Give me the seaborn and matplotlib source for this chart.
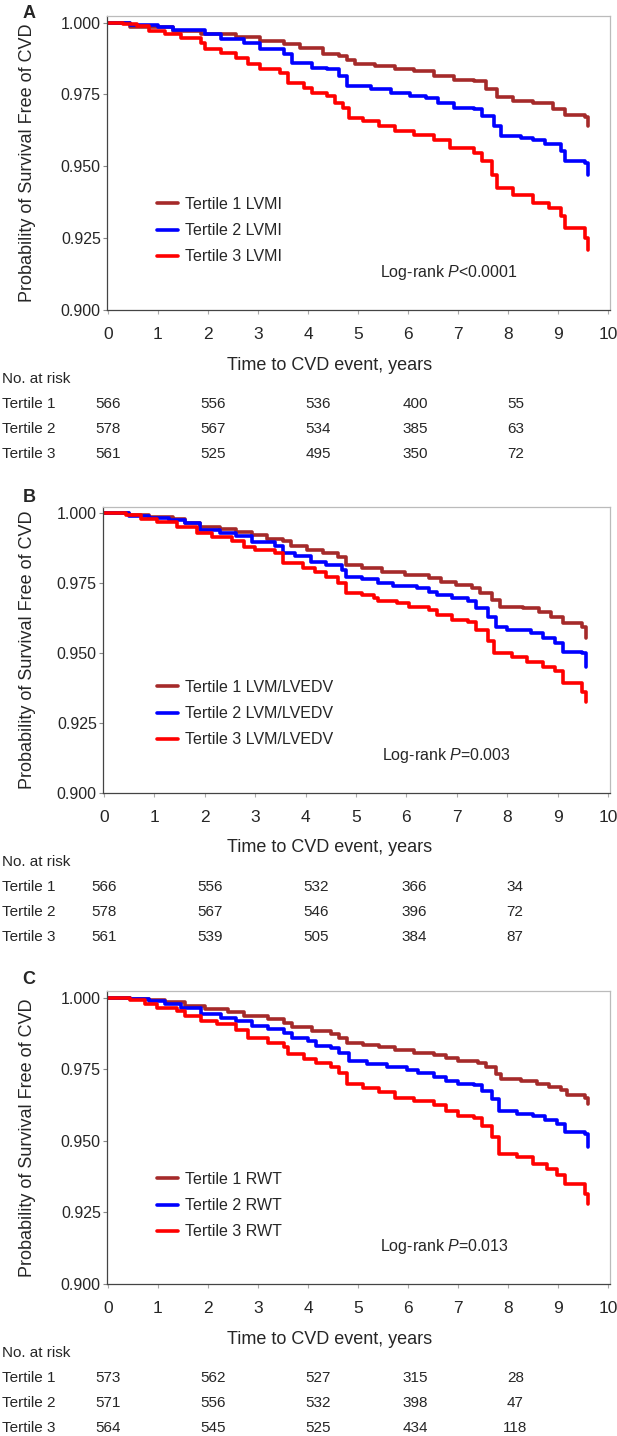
import numpy as np
import pandas as pd
import matplotlib
matplotlib.use('Agg')
import matplotlib.pyplot as plt
import matplotlib.transforms as mtransforms
from matplotlib.lines import Line2D
import seaborn as sns

# ---- curve data: times (years) where the curve steps down, and survival after the step ----
lvmi_t1_time = [0, 0.43, 1.30, 1.85, 2.56, 3.04, 3.51, 3.83, 4.30, 4.62, 4.78, 4.94, 5.33, 5.73, 6.12,
                6.52, 6.91, 7.31, 7.55, 7.78, 8.10, 8.50, 8.89, 9.13, 9.53, 9.60]
lvmi_t1_surv = [1.0, 0.9985, 0.997, 0.996, 0.995, 0.9936, 0.9925, 0.991, 0.989, 0.9884, 0.987, 0.9855, 0.985,
                0.984, 0.983, 0.9815, 0.980, 0.9797, 0.977, 0.974, 0.9727, 0.972, 0.970, 0.968, 0.967, 0.964]
lvmi_t2_time = [0, 0.43, 1.00, 1.30, 1.93, 2.25, 2.72, 3.04, 3.51, 3.67, 4.07, 4.38, 4.62, 4.78, 5.25, 5.65,
                6.04, 6.36, 6.60, 6.91, 7.31, 7.47, 7.71, 7.86, 8.26, 8.50, 8.73, 9.05, 9.13, 9.53, 9.60]
lvmi_t2_surv = [1.0, 0.9992, 0.9983, 0.9973, 0.996, 0.9942, 0.993, 0.9907, 0.989, 0.986, 0.9843, 0.9837,
                0.9814, 0.978, 0.977, 0.9756, 0.9744, 0.9738, 0.972, 0.9703, 0.9698, 0.9674, 0.964, 0.9605,
                0.960, 0.9593, 0.9576, 0.9552, 0.9517, 0.9510, 0.947]
lvmi_t3_time = [0, 0.30, 0.58, 0.82, 1.14, 1.46, 1.85, 1.93, 2.25, 2.56, 2.80, 3.04, 3.43, 3.59, 3.91, 4.07,
                4.38, 4.54, 4.70, 4.82, 5.09, 5.41, 5.73, 6.12, 6.52, 6.84, 7.31, 7.47, 7.67, 7.78, 8.10,
                8.50, 8.81, 9.05, 9.13, 9.53, 9.60]
lvmi_t3_surv = [1.0, 0.9994, 0.9988, 0.997, 0.996, 0.9948, 0.993, 0.9907, 0.9895, 0.9878, 0.9855, 0.9837,
                0.9826, 0.979, 0.9773, 0.9756, 0.9744, 0.972, 0.9703, 0.9669, 0.9657, 0.964, 0.9622, 0.961,
                0.9593, 0.9564, 0.9547, 0.9517, 0.947, 0.9424, 0.940, 0.9372, 0.9355, 0.9326, 0.9285,
                0.925, 0.921]

ratio_t1_time = [0, 0.50, 0.90, 1.37, 1.60, 1.91, 2.30, 2.62, 2.93, 3.24, 3.55, 3.71, 4.02, 4.34, 4.65, 4.80,
                 5.12, 5.51, 5.98, 6.45, 6.68, 6.99, 7.30, 7.46, 7.70, 7.85, 8.32, 8.63, 8.87, 9.10, 9.49, 9.57]
ratio_t1_surv = [1.0, 0.9994, 0.9988, 0.9979, 0.9967, 0.9952, 0.9943, 0.9935, 0.9923, 0.991, 0.9902, 0.9883,
                 0.9869, 0.9857, 0.9845, 0.9815, 0.9804, 0.9792, 0.978, 0.9768, 0.9756, 0.9744, 0.9732,
                 0.9714, 0.969, 0.9667, 0.9661, 0.9649, 0.9631, 0.9607, 0.9595, 0.9554]
ratio_t2_time = [0, 0.50, 0.90, 1.29, 1.60, 1.91, 2.30, 2.62, 2.93, 3.40, 3.55, 3.79, 4.10, 4.41, 4.73, 4.80,
                 5.12, 5.43, 5.74, 6.21, 6.45, 6.60, 6.91, 7.23, 7.38, 7.62, 7.77, 8.00, 8.48, 8.71, 8.95,
                 9.10, 9.49, 9.57]
ratio_t2_surv = [1.0, 0.9992, 0.9982, 0.9976, 0.9964, 0.994, 0.9931, 0.9919, 0.9899, 0.9883, 0.9857, 0.9848,
                 0.9827, 0.9815, 0.9798, 0.9774, 0.9764, 0.975, 0.974, 0.9732, 0.972, 0.9708, 0.9696,
                 0.9685, 0.9661, 0.9631, 0.9595, 0.9583, 0.9571, 0.9554, 0.9536, 0.9506, 0.950, 0.9452]
ratio_t3_time = [0, 0.43, 0.74, 1.05, 1.45, 1.84, 2.15, 2.54, 2.77, 3.00, 3.40, 3.55, 3.95, 4.18, 4.41, 4.65,
                 4.80, 5.12, 5.35, 5.43, 5.82, 6.05, 6.45, 6.60, 6.91, 7.23, 7.38, 7.62, 7.73, 8.09, 8.40,
                 8.71, 8.95, 9.10, 9.49, 9.57]
ratio_t3_surv = [1.0, 0.9994, 0.9979, 0.997, 0.9952, 0.9929, 0.9917, 0.9902, 0.9881, 0.9869, 0.9857, 0.9821,
                 0.9804, 0.9792, 0.9774, 0.975, 0.9717, 0.9708, 0.9696, 0.9685, 0.9679, 0.9667, 0.9655,
                 0.9637, 0.9619, 0.9613, 0.9583, 0.9542, 0.950, 0.9488, 0.947, 0.9452, 0.9435, 0.9393,
                 0.9363, 0.9327]

rwt_t1_time = [0, 0.43, 0.82, 1.14, 1.53, 1.93, 2.40, 2.72, 3.20, 3.51, 3.67, 4.07, 4.46, 4.62, 4.78, 5.09,
               5.41, 5.73, 6.12, 6.52, 6.76, 6.99, 7.39, 7.55, 7.75, 7.86, 8.26, 8.58, 8.81, 9.05, 9.17,
               9.53, 9.60]
rwt_t1_surv = [1.0, 0.9996, 0.9991, 0.9983, 0.9971, 0.9959, 0.9948, 0.9936, 0.9924, 0.9913, 0.9898, 0.9884,
               0.9872, 0.986, 0.9843, 0.9835, 0.9826, 0.9816, 0.9808, 0.980, 0.9788, 0.9779, 0.9773,
               0.9756, 0.9733, 0.9715, 0.9709, 0.9698, 0.9688, 0.9677, 0.966, 0.9651, 0.9628]
rwt_t2_time = [0, 0.43, 0.82, 1.14, 1.46, 1.85, 2.25, 2.56, 2.88, 3.20, 3.51, 3.67, 3.99, 4.15, 4.46, 4.62,
               4.82, 5.17, 5.57, 5.97, 6.20, 6.52, 6.76, 6.99, 7.31, 7.47, 7.67, 7.82, 8.18, 8.50, 8.73,
               8.97, 9.13, 9.53, 9.60]
rwt_t2_surv = [1.0, 0.9995, 0.9988, 0.9979, 0.9965, 0.9942, 0.993, 0.9919, 0.9901, 0.989, 0.9878, 0.9858,
               0.9847, 0.9831, 0.9823, 0.9808, 0.9779, 0.9767, 0.9756, 0.9747, 0.9738, 0.9723, 0.9709,
               0.9698, 0.9695, 0.9674, 0.9645, 0.9605, 0.9595, 0.9587, 0.9572, 0.9558, 0.9529, 0.9523,
               0.9477]
rwt_t3_time = [0, 0.43, 0.74, 0.98, 1.38, 1.53, 1.85, 2.17, 2.56, 2.80, 3.20, 3.51, 3.59, 3.91, 4.15, 4.46,
               4.62, 4.78, 5.09, 5.41, 5.73, 6.12, 6.52, 6.76, 6.99, 7.31, 7.47, 7.67, 7.82, 8.18, 8.50,
               8.77, 8.97, 9.13, 9.53, 9.60]
rwt_t3_surv = [1.0, 0.9991, 0.9977, 0.9965, 0.9953, 0.9936, 0.9919, 0.9907, 0.9886, 0.986, 0.9843, 0.9826,
               0.9802, 0.9785, 0.977, 0.9758, 0.9738, 0.9698, 0.9686, 0.9669, 0.9651, 0.964, 0.9626,
               0.9605, 0.9587, 0.9581, 0.9552, 0.9512, 0.9453, 0.9442, 0.9419, 0.9401, 0.9381, 0.9349,
               0.9314, 0.9279]

# ---- numbers at risk ----
risk_times = [0, 2, 4, 6, 8]
lvmi_at_risk = [[566, 556, 536, 400, 55], [578, 567, 534, 385, 63], [561, 525, 495, 350, 72]]
ratio_at_risk = [[566, 556, 532, 366, 34], [578, 567, 546, 396, 72], [561, 539, 505, 384, 87]]
rwt_at_risk = [[573, 562, 527, 315, 28], [571, 556, 532, 398, 47], [564, 545, 525, 434, 118]]

panel_letters = ['A', 'B', 'C']
measure_names = ['LVMI', 'LVM/LVEDV', 'RWT']
p_texts = ['<0.0001', '=0.003', '=0.013']
tertiles = ['Tertile 1', 'Tertile 2', 'Tertile 3']
y_ticks = [0.900, 0.925, 0.950, 0.975, 1.000]
x_ticks = list(range(0, 11))

curves = [
    [(lvmi_t1_time, lvmi_t1_surv), (lvmi_t2_time, lvmi_t2_surv), (lvmi_t3_time, lvmi_t3_surv)],
    [(ratio_t1_time, ratio_t1_surv), (ratio_t2_time, ratio_t2_surv), (ratio_t3_time, ratio_t3_surv)],
    [(rwt_t1_time, rwt_t1_surv), (rwt_t2_time, rwt_t2_surv), (rwt_t3_time, rwt_t3_surv)],
]
at_risk = [lvmi_at_risk, ratio_at_risk, rwt_at_risk]
colors = ['#A52A2A', '#0000FF', '#FF0000']

# ---- layout (pixels) ----
W, H = 617, 1436
# left, top, right, bottom of each axes
boxes = [(107, 16, 610, 310), (103, 507, 610, 793), (107, 991, 610, 1284)]
letter_y = [13, 498, 980]
legend_top = [197, 680, 1172]
logrank_pos = [(380, 272), (382, 755), (380, 1247)]
risk_col_shift = [0.0, 0.1, 0.2, 0.15, 0.15]

sns.set_style('white')
plt.rcParams['font.family'] = ['Liberation Sans', 'DejaVu Sans']
plt.rcParams['mathtext.fontset'] = 'custom'
plt.rcParams['mathtext.rm'] = 'Liberation Sans'
plt.rcParams['mathtext.it'] = 'Liberation Sans:italic'

fig = plt.figure(figsize=(W / 100, H / 100), dpi=100)


def fx(px):
    return px / W


def fy(py):
    return 1 - py / H


for i in range(3):
    l, t, r, b = boxes[i]
    ax = fig.add_axes([fx(l), fy(b), (r - l) / W, (b - t) / H])

    rows = []
    for k, (tt, ss) in enumerate(curves[i]):
        label = f'{tertiles[k]} {measure_names[i]}'
        rows.append(pd.DataFrame({'time': tt, 'surv': ss, 'group': label}))
    df = pd.concat(rows, ignore_index=True)
    labels = list(df['group'].unique())

    sns.lineplot(data=df, x='time', y='surv', hue='group', hue_order=labels,
                 palette=colors, drawstyle='steps-post', linewidth=2.6,
                 estimator=None, legend=False, ax=ax)

    ax.set_xlim(-0.02, 10.04)
    ax.set_ylim(0.9, 1.0023)
    ax.set_xticks(x_ticks)
    ax.set_yticks(y_ticks)
    ax.set_yticklabels([f'{v:.3f}' for v in y_ticks])
    ax.set_xlabel('')
    ax.set_ylabel('')
    ax.tick_params(axis='y', length=3, width=0.8, color='#888888', pad=1.5, labelsize=11.5,
                   left=True, direction='out')
    ax.tick_params(axis='x', length=3, width=0.8, color='#AAAAAA', pad=9, labelsize=12.5,
                   bottom=True, direction='out')
    for side in ['top', 'right']:
        ax.spines[side].set_color('#BBBBBB')
        ax.spines[side].set_linewidth(0.9)
    for side in ['left', 'bottom']:
        ax.spines[side].set_color('#444444')
        ax.spines[side].set_linewidth(0.9)

    handles = [Line2D([], [], color=c, linewidth=2.6) for c in colors]
    ax.legend(handles, labels, loc='upper left', frameon=False,
              bbox_to_anchor=(fx(157), fy(legend_top[i])), bbox_transform=fig.transFigure,
              borderpad=0, borderaxespad=0, handlelength=1.3, handletextpad=0.45,
              labelspacing=0.7, fontsize=11.5)

    lx, ly = logrank_pos[i]
    fig.text(fx(lx), fy(ly), f'Log-rank $P${p_texts[i]}', fontsize=11.5, va='center', ha='left')

    # panel letter and axis titles
    fig.text(fx(29), fy(letter_y[i]), panel_letters[i], fontsize=13, fontweight='bold',
             ha='center', va='center')
    fig.text(fx(28), fy((t + b) / 2), 'Probability of Survival Free of CVD', rotation=90,
             fontsize=13, ha='center', va='center')
    fig.text(fx(330), fy(b + 55), 'Time to CVD event, years', fontsize=13, ha='center', va='center')

    # numbers at risk table
    fig.text(fx(2), fy(b + 69), 'No. at risk', fontsize=11, ha='left', va='center')
    trans = mtransforms.blended_transform_factory(ax.transData, fig.transFigure)
    for k in range(3):
        yy = fy(b + 94 + 25 * k)
        fig.text(fx(2), yy, tertiles[k], fontsize=11, ha='left', va='center')
        for j, n in enumerate(at_risk[i][k]):
            ax.text(risk_times[j] + risk_col_shift[j], yy, str(n), transform=trans,
                    fontsize=11, ha='center', va='center', clip_on=False)

fig.savefig('out.png', dpi=100)
